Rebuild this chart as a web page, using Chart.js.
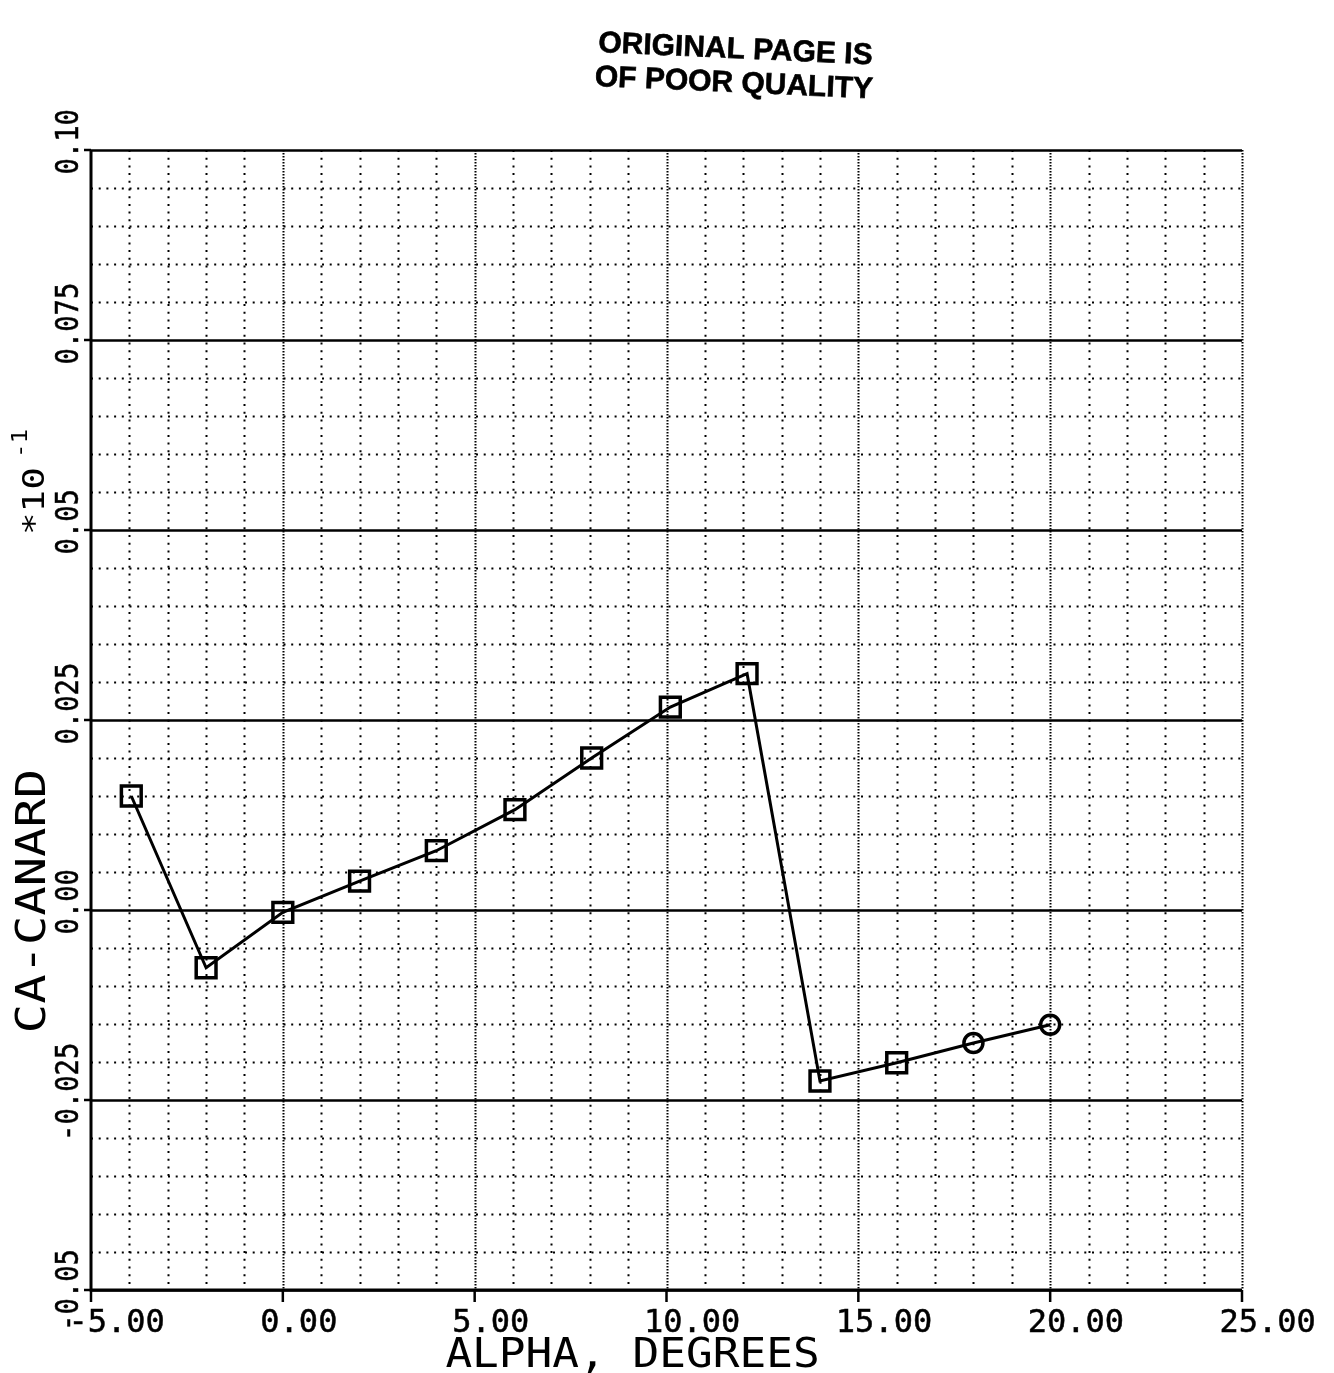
<!DOCTYPE html>
<html>
<head>
<meta charset="utf-8">
<title>CA-CANARD vs ALPHA</title>
<script src="https://cdn.jsdelivr.net/npm/chart.js@4/dist/chart.umd.min.js"></script>
<style>
  html, body { margin: 0; padding: 0; background: #fff; }
  canvas { display: block; }
</style>
</head>
<body>
<canvas id="graph" width="1334" height="1373"></canvas>
<script>
// Data
const alpha = [-3.95, -2.0, 0.0, 2.0, 4.0, 6.05, 8.05, 10.1, 12.1, 14.0, 16.0, 18.0, 20.0];
const caCanard = [0.0150, -0.0076, -0.0003, 0.0038, 0.0078, 0.0132, 0.0200, 0.0267, 0.0311, -0.0225, -0.0201, -0.0175, -0.0151];
const symbols = ['rect', 'rect', 'rect', 'rect', 'rect', 'rect', 'rect', 'rect', 'rect', 'rect', 'rect', 'circle', 'circle'];

// Axes
const xTickValues = [-5, 0, 5, 10, 15, 20, 25];
const xTickLabels = ['-5.00', '0.00', '5.00', '10.00', '15.00', '20.00', '25.00'];
const yTickValues = [-0.05, -0.025, 0, 0.025, 0.05, 0.075, 0.10];
const yTickLabels = ['-0.05', '-0.025', '0.00', '0.025', '0.05', '0.075', '0.10'];
const xMinorStep = 1;
const yMinorStep = 0.005;
const xTitle = 'ALPHA, DEGREES';
const yTitle = 'CA-CANARD';
const yScaleNote = '*10';
const yScaleExp = '-1';
const stampLines = ['ORIGINAL PAGE IS', 'OF POOR QUALITY'];

const MONO = '"DejaVu Sans Mono", "Liberation Mono", monospace';

// fill, plus an optional thin stroke to thicken plotter strokes a little
function penText(c, text, x, y, pen) {
    c.fillText(text, x, y);
    if (pen) {
        c.lineWidth = pen;
        c.strokeText(text, x, y);
    }
}

// draw text rotated -90deg (reads bottom to top), optional stretch along text direction
function upText(c, text, x, y, font, stretch, align, pen) {
    c.save();
    c.translate(x, y);
    c.rotate(-Math.PI / 2);
    c.scale(stretch, 1);
    c.font = font;
    c.textAlign = align || 'left';
    c.textBaseline = 'alphabetic';
    penText(c, text, 0, 0, pen);
    c.restore();
}

const plotterGrid = {
    id: 'plotterGrid',
    beforeDatasetsDraw(chart) {
        const c = chart.ctx;
        const xs = chart.scales.x, ys = chart.scales.y;
        const a = chart.chartArea;
        c.save();
        c.strokeStyle = '#000';

        // dotted verticals, denser dots on the major ones
        for (let v = xs.min + xMinorStep; v < xs.max + 0.001; v += xMinorStep) {
            const px = Math.round(xs.getPixelForValue(v)) + 0.5;
            const major = xTickValues.some(t => Math.abs(t - v) < 1e-6);
            c.lineWidth = 2;
            c.setLineDash(major ? [1.5, 1.5] : [2, 5.7]);
            c.beginPath();
            c.moveTo(px, a.top);
            c.lineTo(px, a.bottom);
            c.stroke();
        }
        // horizontals: solid at labelled ticks, dotted between
        for (let i = 0; ; i++) {
            const v = ys.min + i * yMinorStep;
            if (v > ys.max + 1e-9) break;
            const py = Math.round(ys.getPixelForValue(v)) + 0.5;
            const major = yTickValues.some(t => Math.abs(t - v) < 1e-9);
            if (major) {
                c.setLineDash([]);
                c.lineWidth = 2.5;
            } else {
                c.setLineDash([2, 5.7]);
                c.lineWidth = 2;
            }
            c.beginPath();
            c.moveTo(a.left, py);
            c.lineTo(a.right, py);
            c.stroke();
        }

        // axis lines
        c.setLineDash([]);
        c.lineWidth = 3;
        c.beginPath();
        c.moveTo(a.left, a.top);
        c.lineTo(a.left, a.bottom);
        c.lineTo(a.right, a.bottom);
        c.stroke();

        // tick marks
        c.lineWidth = 2.5;
        xTickValues.forEach(v => {
            const px = xs.getPixelForValue(v);
            c.beginPath();
            c.moveTo(px, a.bottom);
            c.lineTo(px, a.bottom + 12);
            c.stroke();
        });
        yTickValues.forEach(v => {
            const py = ys.getPixelForValue(v);
            c.beginPath();
            c.moveTo(a.left - 7, py);
            c.lineTo(a.left, py);
            c.stroke();
        });
        c.restore();
    },
    afterDraw(chart) {
        const c = chart.ctx;
        const xs = chart.scales.x, ys = chart.scales.y;
        const a = chart.chartArea;
        c.save();
        c.fillStyle = '#000';
        c.strokeStyle = '#000';

        // x tick labels
        c.font = '32px ' + MONO;
        c.textAlign = 'left';
        c.textBaseline = 'alphabetic';
        xTickLabels.forEach((lab, i) => {
            const px = xs.getPixelForValue(xTickValues[i]);
            penText(c, lab, px - 22.5, a.bottom + 42, 0.5);
        });

        // y tick labels, decimal point sits on the tick
        const yFont = '32px ' + MONO;
        const yStretch = 0.85;
        c.font = yFont;
        yTickLabels.forEach((lab, i) => {
            const py = ys.getPixelForValue(yTickValues[i]);
            const pre = lab.slice(0, lab.indexOf('.'));
            const off = (c.measureText(pre).width + c.measureText('.').width / 2) * yStretch;
            upText(c, lab, 78, py + off, yFont, yStretch, 'left', 0.5);
        });

        // axis titles
        upText(c, yTitle, 45, (a.top + a.bottom) / 2 + 181, '40px ' + MONO, 1.22, 'center');
        upText(c, yScaleNote, 44, 535, '30px ' + MONO, 1.25, 'left');
        upText(c, yScaleExp, 27, 458, '22px ' + MONO, 1.1, 'left');

        c.save();
        c.translate((a.left + a.right) / 2 - 34, 1367);
        c.scale(1.11, 1);
        c.font = '40px ' + MONO;
        c.textAlign = 'center';
        penText(c, xTitle, 0, 0);
        c.restore();

        // stamp
        c.save();
        c.translate(598, 52);
        c.rotate(0.045);
        c.font = 'bold 30px "Liberation Sans", Arial, sans-serif';
        c.textAlign = 'left';
        penText(c, stampLines[0], 0, 0, 0.6);
        penText(c, stampLines[1], -2, 34, 0.6);
        c.restore();

        c.restore();
    }
};

const ctx = document.getElementById('graph').getContext('2d');

const chart = new Chart(ctx, {
    type: 'scatter',
    data: {
        datasets: [
            {
                label: yTitle,
                data: alpha.map((x, i) => ({ x: x, y: caCanard[i] })),
                showLine: true,
                borderColor: '#000',
                borderWidth: 3,
                tension: 0,
                pointStyle: symbols,
                pointRadius: c => symbols[c.dataIndex] === 'rect' ? 14 : 9.5,
                pointBorderWidth: 3.5,
                pointBorderColor: '#000',
                pointBackgroundColor: 'rgba(255,255,255,0)',
                clip: false,
            },
        ],
    },
    options: {
        responsive: false,
        animation: false,
        events: [],
        layout: {
            padding: { left: 91, right: 92, top: 150, bottom: 83 },
        },
        plugins: {
            legend: { display: false },
            tooltip: { enabled: false },
        },
        scales: {
            x: { type: 'linear', min: -5, max: 25, display: false },
            y: { type: 'linear', min: -0.05, max: 0.10, display: false },
        },
    },
    plugins: [plotterGrid],
});
</script>
</body>
</html>
